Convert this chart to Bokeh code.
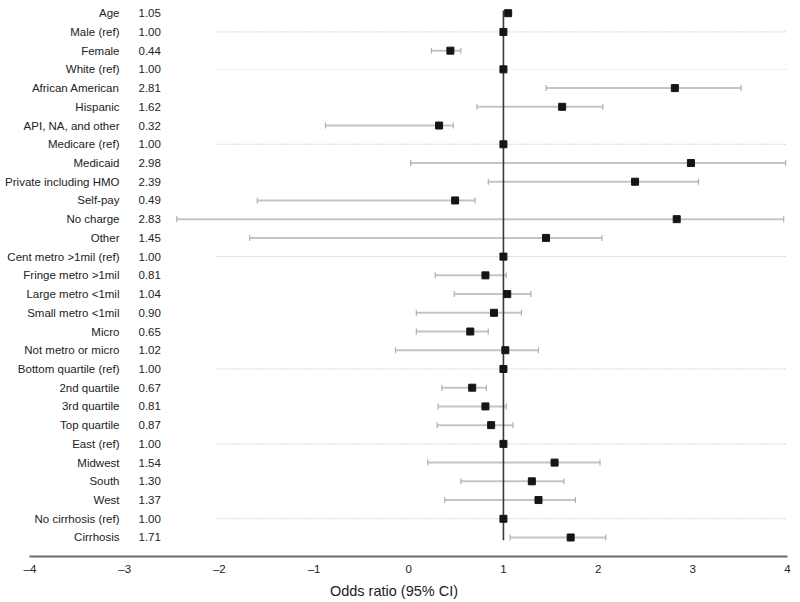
import math
from bokeh.plotting import figure
from bokeh.models import (ColumnDataSource, Range1d, FixedTicker, Whisker, TeeHead)
from bokeh.core.properties import value
from bokeh.embed import file_html
from bokeh.resources import INLINE

labels = ["Age", "Male (ref)", "Female", "White (ref)", "African American", "Hispanic",
          "API, NA, and other", "Medicare (ref)", "Medicaid", "Private including HMO",
          "Self-pay", "No charge", "Other", "Cent metro >1mil (ref)", "Fringe metro >1mil",
          "Large metro <1mil", "Small metro <1mil", "Micro", "Not metro or micro",
          "Bottom quartile (ref)", "2nd quartile", "3rd quartile", "Top quartile",
          "East (ref)", "Midwest", "South", "West", "No cirrhosis (ref)", "Cirrhosis"]
odds = [1.05, 1.00, 0.44, 1.00, 2.81, 1.62, 0.32, 1.00, 2.98, 2.39, 0.49, 2.83, 1.45,
        1.00, 0.81, 1.04, 0.90, 0.65, 1.02, 1.00, 0.67, 0.81, 0.87, 1.00, 1.54, 1.30,
        1.37, 1.00, 1.71]
nan = float("nan")
ci_low = [nan, nan, 0.24, nan, 1.45, 0.72, -0.88, nan, 0.02, 0.84, -1.60, -2.45, -1.68,
          nan, 0.28, 0.48, 0.08, 0.08, -0.14, nan, 0.35, 0.31, 0.30, nan, 0.20, 0.55,
          0.38, nan, 1.07]
ci_high = [nan, nan, 0.55, nan, 3.51, 2.05, 0.47, nan, 3.98, 3.06, 0.70, 3.96, 2.04,
           nan, 1.03, 1.29, 1.19, 0.84, 1.37, nan, 0.82, 1.03, 1.10, nan, 2.02, 1.64,
           1.76, nan, 2.08]
x_ticks = [-4, -3, -2, -1, 0, 1, 2, 3, 4]
x_label = "Odds ratio (95% CI)"

FONT = "Liberation Sans"
n = len(labels)
rows = list(range(n))

p = figure(width=796, frame_width=787, frame_height=556, output_backend="svg",
           toolbar_location=None,
           x_range=Range1d(-4.3115, 4), y_range=Range1d(29.015, -0.678),
           y_axis_location=None, min_border_left=0, min_border_right=9,
           min_border_top=0, min_border_bottom=0)
p.grid.visible = False
p.outline_line_color = None

# separator lines for reference rows
ref_rows = [i for i, l in enumerate(labels) if l.endswith("(ref)")]
dot_rows = [i for i in ref_rows if labels[i] != "White (ref)"]
solid_rows = [i for i in ref_rows if labels[i] == "White (ref)"]
p.segment(x0=-2.02, x1=4, y0=dot_rows, y1=dot_rows, line_color="#b0b0b0",
          line_width=1, line_dash="1 2")
p.segment(x0=-2.02, x1=4, y0=solid_rows, y1=solid_rows, line_color="#eeeeee",
          line_width=1)

# confidence intervals
ci_idx = [i for i in rows if not math.isnan(ci_low[i])]
ci_src = ColumnDataSource(dict(y=[rows[i] for i in ci_idx],
                               lo=[ci_low[i] for i in ci_idx],
                               hi=[ci_high[i] for i in ci_idx]))
w = Whisker(base="y", lower="lo", upper="hi", dimension="width", source=ci_src,
            line_color="#c4c4c4", line_width=2,
            lower_head=TeeHead(size=6, line_color="#b0b0b0", line_width=1.2),
            upper_head=TeeHead(size=6, line_color="#b0b0b0", line_width=1.2))
p.add_layout(w)

# reference line at 1
p.segment(x0=[1], x1=[1], y0=[-0.15], y1=[28.15], line_color="#3a3a3a", line_width=1.6)

# point estimates
p.scatter(x=odds, y=rows, marker="square", size=7, fill_color="#151515",
          line_color="#151515")

# label columns
p.text(x=[-3.055] * n, y=rows, text=labels, text_align="right", text_baseline="middle",
       text_font=value(FONT), text_font_size="11.5px", text_color="#222222")
p.text(x=[-2.854] * n, y=rows, text=[f"{v:.2f}" for v in odds], text_align="left",
       text_baseline="middle", text_font=value(FONT), text_font_size="11.5px",
       text_color="#222222")

ax = p.xaxis[0]
ax.bounds = (-4, 4)
ax.ticker = FixedTicker(ticks=x_ticks)
ax.major_label_overrides = {t: (f"\u2013{abs(t)}" if t < 0 else str(t)) for t in x_ticks}
ax.axis_line_color = "#6a6a6a"
ax.axis_line_width = 2
ax.major_tick_line_color = None
ax.minor_tick_line_color = None
ax.major_label_text_font = FONT
ax.major_label_text_font_size = "11.5px"
ax.major_label_text_color = "#222222"
ax.major_label_standoff = 0
ax.axis_label = x_label
ax.axis_label_text_font = FONT
ax.axis_label_text_font_size = "14.5px"
ax.axis_label_text_font_style = "normal"
ax.axis_label_text_color = "#222222"
ax.axis_label_standoff = 5

open("out.html", "w").write(file_html(p, INLINE))
